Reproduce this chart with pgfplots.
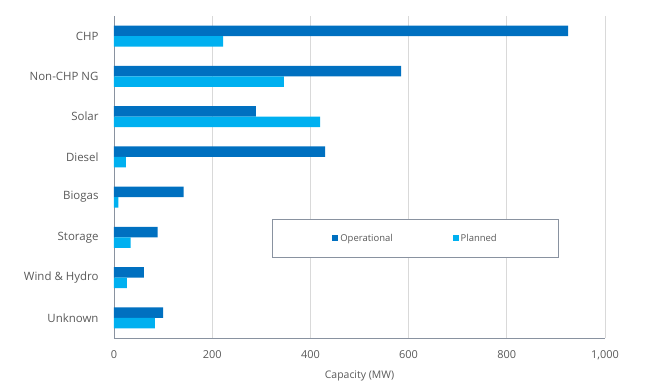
\documentclass[border=0pt]{standalone}
\usepackage{fontspec}
\setmainfont{Open Sans}
\usepackage{pgfplots}
\pgfplotsset{compat=1.18}
\definecolor{opc}{RGB}{0,112,192}
\definecolor{plc}{RGB}{0,176,240}
\definecolor{txt}{RGB}{89,89,89}
\definecolor{grd}{RGB}{217,217,217}
\definecolor{axl}{RGB}{137,146,160}
\begin{document}
\begin{tikzpicture}[x=1bp,y=1bp]
\path[use as bounding box] (-114,-50) rectangle (531,338);
\begin{axis}[at={(0,0)}, anchor=south west, scale only axis,
  width=491bp, height=322bp,
  xbar, bar width=10.5bp,
  xmin=0, xmax=1000, ymin=-0.5, ymax=7.5, y dir=reverse,
  ytick={0,...,7},
  yticklabels={CHP,Non-CHP NG,Solar,Diesel,Biogas,Storage,Wind \& Hydro,Unknown},
  xtick={0,200,...,1000},
  /pgf/number format/assume math mode=true,
  /pgf/number format/1000 sep={,},
  xmajorgrids, grid style={grd, line width=0.75bp},
  axis x line*=bottom, axis y line*=left,
  x axis line style={-, axl, line width=0.75bp},
  y axis line style={-, axl, line width=0.75bp},
  major tick length=0pt,
  yticklabel style={font=\fontsize{11.5}{13}\selectfont, text=txt, xshift=-12bp},
  xticklabel style={font=\fontsize{11}{13}\selectfont, text=txt, yshift=-9bp},
  xlabel={Capacity (MW)},
  xlabel style={font=\fontsize{10.5}{12}\selectfont, text=txt, yshift=-4bp},
  legend columns=2,
  legend style={at={(axis description cs:0.3218,0.2484)}, anchor=south west,
    draw=axl, line width=0.75bp, font=\fontsize{9.5}{11}\selectfont, text=txt,
    inner xsep=60bp, inner ysep=13bp,
    /tikz/every even column/.append style={column sep=58bp}},
]
\addplot[fill=opc, draw=none, bar shift=5.25bp,
  legend image code/.code={\fill[opc] (0bp,-3bp) rectangle (6bp,3bp);}]
  coordinates {(925,0) (585,1) (289,2) (430,3) (142,4) (89,5) (61,6) (100,7)};
\addlegendentry{Operational}
\addplot[fill=plc, draw=none, bar shift=-5.25bp,
  legend image code/.code={\fill[plc] (0bp,-3bp) rectangle (6bp,3bp);}]
  coordinates {(222,0) (346,1) (420,2) (24,3) (9,4) (34,5) (26,6) (83,7)};
\addlegendentry{Planned}
\end{axis}
\end{tikzpicture}
\end{document}
